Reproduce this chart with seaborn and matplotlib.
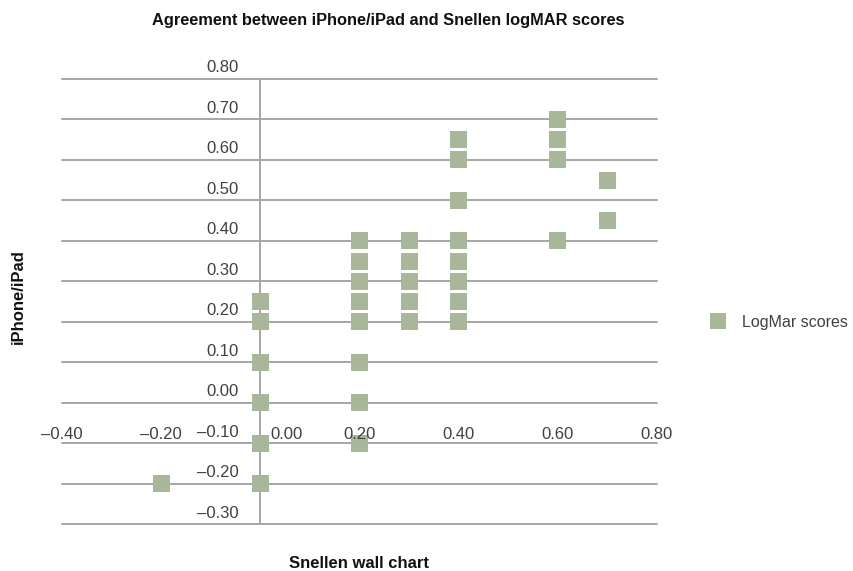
import matplotlib
matplotlib.use("Agg")
import matplotlib.pyplot as plt
import matplotlib.transforms as mtransforms
import seaborn as sns
import pandas as pd

snellen = [-0.2,
           0.0, 0.0, 0.0, 0.0, 0.0, 0.0,
           0.2, 0.2, 0.2, 0.2, 0.2, 0.2, 0.2, 0.2,
           0.3, 0.3, 0.3, 0.3, 0.3,
           0.4, 0.4, 0.4, 0.4, 0.4, 0.4, 0.4, 0.4,
           0.6, 0.6, 0.6, 0.6,
           0.7, 0.7]
iphone = [-0.2,
          0.25, 0.2, 0.1, 0.0, -0.1, -0.2,
          0.4, 0.35, 0.3, 0.25, 0.2, 0.1, 0.0, -0.1,
          0.4, 0.35, 0.3, 0.25, 0.2,
          0.65, 0.6, 0.5, 0.4, 0.35, 0.3, 0.25, 0.2,
          0.7, 0.65, 0.6, 0.4,
          0.55, 0.45]
x_ticks = [-0.4, -0.2, 0.0, 0.2, 0.4, 0.6, 0.8]
y_ticks = [0.8, 0.7, 0.6, 0.5, 0.4, 0.3, 0.2, 0.1, 0.0, -0.1, -0.2, -0.3]
series_name = "LogMar scores"

df = pd.DataFrame({"Snellen": snellen, "iPhone": iphone, "series": series_name})

sns.set_style("white")
plt.rcParams["font.family"] = ["Liberation Sans", "DejaVu Sans"]

W, H = 854, 571
fig = plt.figure(figsize=(W / 100, H / 100), dpi=100)
ax = fig.add_axes([62 / W, (H - 524) / H, 595 / W, 445 / H])

grid_c = "#a6a6a6"
for yv in y_ticks:
    ax.axhline(yv, color=grid_c, lw=1.4, zorder=1, clip_on=False)
ax.axvline(0, color=grid_c, lw=1.4, zorder=1, clip_on=False)

point_c = "#a8b799"
sns.scatterplot(data=df, x="Snellen", y="iPhone", hue="series",
                palette=[point_c], marker="s", s=150, linewidth=0,
                ax=ax, zorder=3, legend=True)

ax.set_xlim(-0.4, 0.8)
ax.set_ylim(-0.3, 0.8)
ax.set_xticks([])
ax.set_yticks([])
for sp in ax.spines.values():
    sp.set_visible(False)
ax.set_xlabel("")
ax.set_ylabel("")

lab_c = "#404040"
fs = 12
for yv in y_ticks:
    tr = mtransforms.offset_copy(ax.transData, fig=fig, x=-22, y=11, units="dots")
    ax.text(0, yv, f"{yv:.2f}".replace("-", "\u2013"), transform=tr,
            ha="right", va="center", fontsize=fs, color=lab_c)
for xv in x_ticks:
    if xv == 0:
        tr = mtransforms.offset_copy(ax.transData, fig=fig, x=10, y=-32, units="dots")
        ha = "left"
    else:
        tr = mtransforms.offset_copy(ax.transData, fig=fig, x=0, y=-32, units="dots")
        ha = "center"
    ax.text(xv, 0, f"{xv:.2f}".replace("-", "\u2013"), transform=tr,
            ha=ha, va="center", fontsize=fs, color=lab_c)

fig.text(388 / W, 1 - 20 / H, "Agreement between iPhone/iPad and Snellen logMAR scores",
         ha="center", va="center", fontsize=11.8, fontweight="bold", color="#111111")
fig.text(359 / W, 1 - 563 / H, "Snellen wall chart", ha="center", va="center",
         fontsize=12, fontweight="bold", color="#111111")
fig.text(18 / W, 1 - 297 / H, "iPhone/iPad", ha="center", va="center", rotation=90,
         fontsize=12, fontweight="bold", color="#111111")

leg = ax.legend(loc="center left", bbox_to_anchor=(702 / W, 1 - 322 / H),
                bbox_transform=fig.transFigure, frameon=False, fontsize=11.5,
                handletextpad=0.5, borderaxespad=0, borderpad=0)
for t in leg.get_texts():
    t.set_color(lab_c)
for h in leg.legend_handles:
    try:
        h.set_markersize(12.2)
    except AttributeError:
        h.set_sizes([150])

fig.savefig("out.png", dpi=100)
